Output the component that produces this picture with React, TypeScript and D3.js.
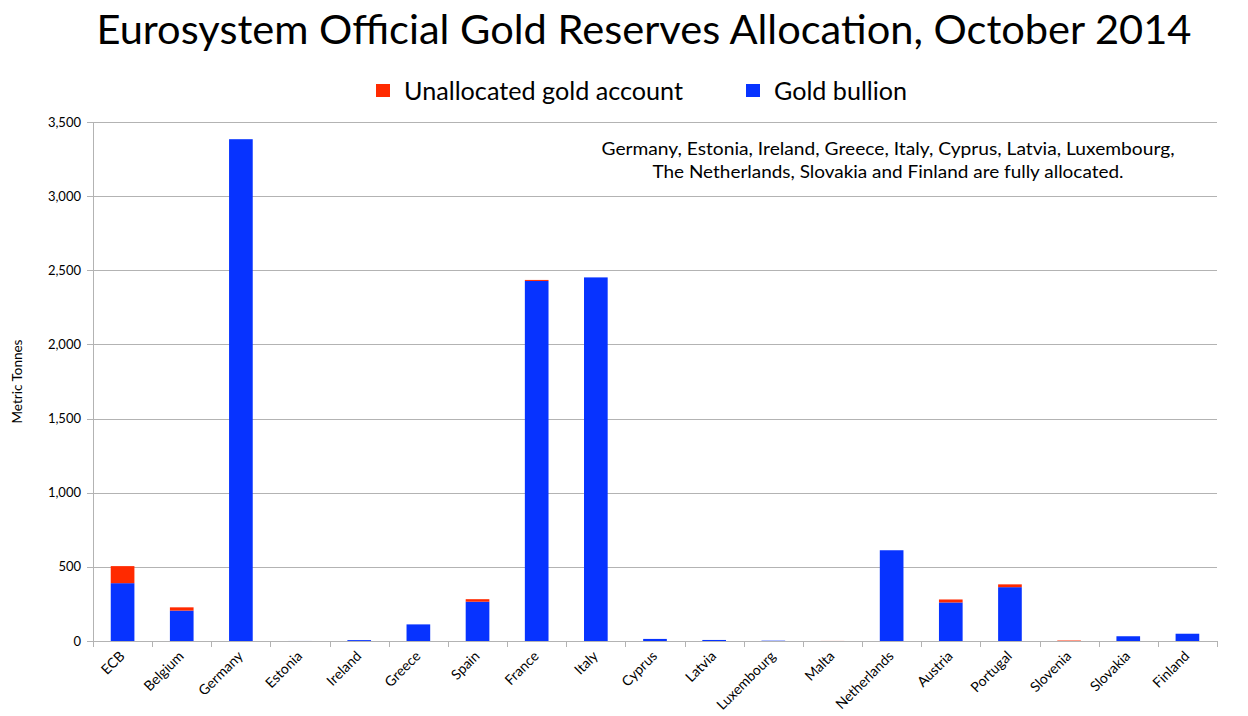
import React, { useEffect, useRef } from 'react';
import * as d3 from 'd3';

const categories = [
  'ECB', 'Belgium', 'Germany', 'Estonia', 'Ireland', 'Greece', 'Spain', 'France', 'Italy', 'Cyprus',
  'Latvia', 'Luxembourg', 'Malta', 'Netherlands', 'Austria', 'Portugal', 'Slovenia', 'Slovakia', 'Finland',
];

// tonnes held as bullion
const bullion = [390, 205, 3384, 0.2, 6, 112, 265, 2428, 2452, 14, 7, 2.2, 0, 612, 260, 363, 0, 32, 49];
// tonnes in unallocated gold accounts
const unallocated = [115, 22, 0, 0, 0, 0, 17, 7, 0, 0, 0, 0, 0.4, 0, 20, 19, 3.2, 0, 0];

const yTicks = [0, 500, 1000, 1500, 2000, 2500, 3000, 3500];

const seriesNames = ['Unallocated gold account', 'Gold bullion'];
const RED = '#ff2a00';
const BLUE = '#0733ff';

const FONT = 'Lato, "Open Sans", sans-serif';

function GoldChart() {
  const svgRef = useRef<SVGSVGElement>(null);

  useEffect(() => {
    const width = 1248;
    const height = 716;
    const margin = { top: 122, right: 31, bottom: 75, left: 93 };
    const svg = d3.select(svgRef.current);
    svg.selectAll('*').remove();
    svg.attr('width', width).attr('height', height).attr('viewBox', `0 0 ${width} ${height}`);

    const x = d3
      .scaleBand<string>()
      .domain(categories)
      .range([margin.left, width - margin.right])
      .paddingInner(0.6)
      .paddingOuter(0.3);

    const y = d3.scaleLinear().domain([0, 3500]).range([height - margin.bottom, margin.top]);

    // title
    svg
      .append('text')
      .attr('x', 644)
      .attr('y', 44)
      .attr('text-anchor', 'middle')
      .attr('font-family', FONT)
      .attr('font-size', 40)
      .attr('textLength', 1095)
      .attr('lengthAdjust', 'spacingAndGlyphs')
      .text('Eurosystem Official Gold Reserves Allocation, October 2014');

    // legend
    const legendItems = [
      { name: seriesNames[0], color: RED, x: 376, w: 279 },
      { name: seriesNames[1], color: BLUE, x: 746, w: 133 },
    ];
    legendItems.forEach((it) => {
      svg.append('rect').attr('x', it.x).attr('y', 84).attr('width', 14).attr('height', 13).attr('fill', it.color);
      svg
        .append('text')
        .attr('x', it.x + 28)
        .attr('y', 100)
        .attr('font-family', FONT)
        .attr('font-size', 25)
        .attr('textLength', it.w)
        .attr('lengthAdjust', 'spacingAndGlyphs')
        .text(it.name);
    });

    // gridlines
    svg
      .append('g')
      .selectAll('line')
      .data(yTicks)
      .join('line')
      .attr('x1', margin.left - 6)
      .attr('x2', width - margin.right)
      .attr('y1', (d) => Math.round(y(d)) + 0.5)
      .attr('y2', (d) => Math.round(y(d)) + 0.5)
      .attr('stroke', '#b3b3b3')
      .attr('stroke-width', 1);

    // y axis line
    svg
      .append('line')
      .attr('x1', margin.left + 0.5)
      .attr('x2', margin.left + 0.5)
      .attr('y1', y(3500))
      .attr('y2', y(0) + 5)
      .attr('stroke', '#b3b3b3');

    svg
      .append('g')
      .selectAll('text')
      .data(yTicks)
      .join('text')
      .attr('x', margin.left - 12)
      .attr('y', (d) => y(d) + 4.5)
      .attr('text-anchor', 'end')
      .attr('font-family', FONT)
      .attr('font-size', 13)
      .text((d) => d3.format(',')(d));

    svg
      .append('text')
      .attr('transform', `translate(22,${(y(0) + y(3500)) / 2}) rotate(-90)`)
      .attr('text-anchor', 'middle')
      .attr('font-family', FONT)
      .attr('font-size', 13.5)
      .text('Metric Tonnes');

    // category separators on the x axis
    const step = x.step();
    const bounds = d3.range(categories.length + 1).map((i) => margin.left + i * step);
    svg
      .append('g')
      .selectAll('line')
      .data(bounds)
      .join('line')
      .attr('x1', (d) => Math.round(d) + 0.5)
      .attr('x2', (d) => Math.round(d) + 0.5)
      .attr('y1', y(0))
      .attr('y2', y(0) + 6)
      .attr('stroke', '#b3b3b3');

    // stacked bars: bullion at the bottom, unallocated on top
    const bars = svg.append('g');
    categories.forEach((c, i) => {
      const bx = x(c)!;
      const bw = x.bandwidth();
      const b = bullion[i];
      const u = unallocated[i];
      if (b > 0) {
        bars
          .append('rect')
          .attr('x', bx)
          .attr('width', bw)
          .attr('y', y(b))
          .attr('height', y(0) - y(b))
          .attr('fill', BLUE);
      }
      if (u > 0) {
        bars
          .append('rect')
          .attr('x', bx)
          .attr('width', bw)
          .attr('y', y(b + u))
          .attr('height', y(b) - y(b + u))
          .attr('fill', RED);
      }
    });

    // rotated category labels
    svg
      .append('g')
      .selectAll('text')
      .data(categories)
      .join('text')
      .attr('transform', (d) => `translate(${x(d)! + x.bandwidth() / 2 + 3},${y(0) + 16}) rotate(-45)`)
      .attr('text-anchor', 'end')
      .attr('font-family', FONT)
      .attr('font-size', 14)
      .text((d) => d);

    // note about fully allocated holdings
    const note = [
      { text: 'Germany, Estonia, Ireland, Greece, Italy, Cyprus, Latvia, Luxembourg,', w: 573 },
      { text: 'The Netherlands, Slovakia and Finland are fully allocated.', w: 471 },
    ];
    note.forEach((line, i) => {
      svg
        .append('text')
        .attr('x', 888)
        .attr('y', 155 + i * 23)
        .attr('text-anchor', 'middle')
        .attr('font-family', FONT)
        .attr('font-size', 18)
        .attr('textLength', line.w)
        .attr('lengthAdjust', 'spacingAndGlyphs')
        .text(line.text);
    });
  }, []);

  return <svg ref={svgRef} style={{ position: 'absolute', left: 0, top: 0, background: '#fff' }} />;
}

export default function App() {
  return <GoldChart />;
}
